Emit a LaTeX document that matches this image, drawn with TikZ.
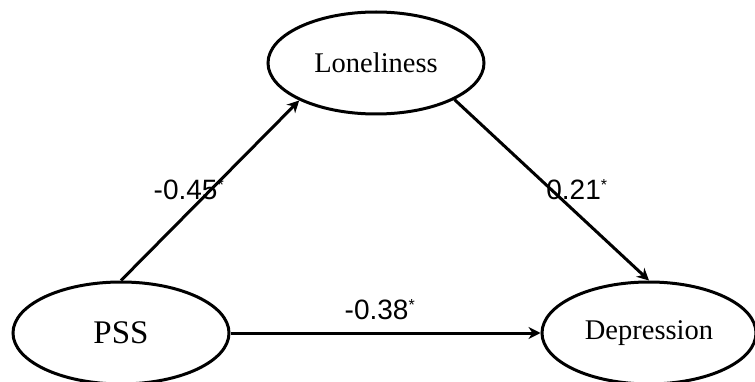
\documentclass[tikz,border=0pt]{standalone}
\usepackage{fontspec}
\setmainfont{Liberation Serif}
\newfontfamily\labfont{Liberation Sans}
\usetikzlibrary{shapes.geometric, arrows.meta}
\tikzset{
  var/.style={ellipse, draw, line width=3pt, inner sep=0pt,
              minimum width=216pt, minimum height=102pt,
              font=\fontsize{28.5}{30}\selectfont},
  coef/.style={font=\labfont\fontsize{28}{30}\selectfont, inner sep=1pt},
  arr/.style={-{Stealth[length=12pt,width=12pt]}, line width=3pt},
}
\newcommand{\sig}{\textsuperscript{\fontsize{16}{16}\selectfont *}}

\begin{document}
\begin{tikzpicture}[x=1pt, y=-1pt]
  \useasboundingbox (0,0) rectangle (755,382);
  \node[var] (lon) at (376,63) {Loneliness};
  \node[var, font=\fontsize{33}{35}\selectfont] (pss) at (121,333) {PSS};
  \node[var, minimum width=214pt] (dep) at (649,333) {Depression};

  \draw[arr] (pss.north) -- (lon.206);
  \draw[arr] (lon.-25) -- (dep.north);
  \draw[arr] (pss.east) -- (dep.west);

  \node[coef] (c45) at (189,190) {-0.45\sig};
  \node[coef] (c21) at (577,190) {0.21\sig};
  \node[coef] (c38) at (380,310) {-0.38\sig};
\end{tikzpicture}
\end{document}
